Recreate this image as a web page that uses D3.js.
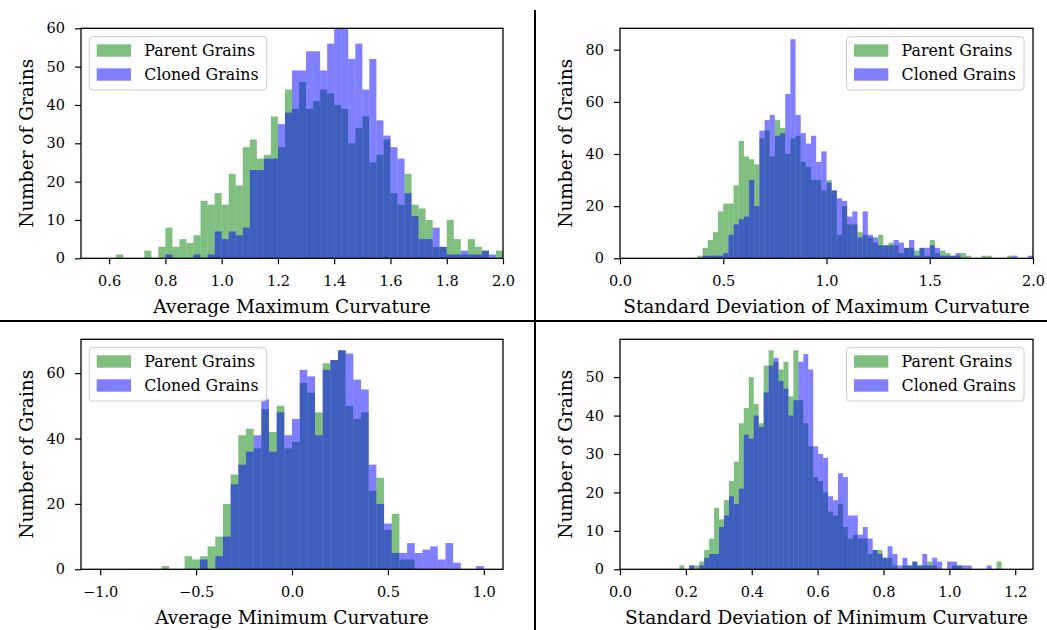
<!DOCTYPE html>
<html>
<head>
<meta charset="utf-8">
<script src="https://cdn.jsdelivr.net/npm/d3@7"></script>
<style>
  html, body { margin: 0; padding: 0; background: #fff; }
  svg { display: block; }
</style>
</head>
<body>
<div id="chart"></div>
<script>
// ---------------- DATA ----------------
const seriesNames = ["Parent Grains", "Cloned Grains"];

// Panel 1: Average Maximum Curvature (bins of 0.025 starting at 0.5)
const p1BinStart = 0.5, p1BinWidth = 0.025;
const p1Parent = [0,0,0,0,0,1,0,0,0,2, 0,3,8,3,5,4,6,15,14,17, 14,22,19,29,31,26,27,37,29,44,
                  39,46,39,41,44,43,40,39,30,34, 37,25,27,31,17,14,22,14,13,10, 3,3,10,5,1,5,3,2,0,2];
const p1Cloned = [0,0,0,0,0,0,0,0,0,0, 0,0,1,0,0,0,1,0,1,7, 5,7,6,8,23,23,26,26,35,38,
                  49,49,54,54,49,56,60,60,52,56, 44,52,36,32,29,26,17,11,5,5, 8,3,1,1,2,1,1,2,1,0];
const p1XTicks = [0.6,0.8,1.0,1.2,1.4,1.6,1.8,2.0];
const p1YTicks = [0,10,20,30,40,50,60];

// Panel 2: Standard Deviation of Maximum Curvature (bins of 0.025 starting at 0)
const p2BinStart = 0.0, p2BinWidth = 0.025;
const p2Parent = [0,0,0,0,0,0,0,0,0,0, 0,0,0,0,0,1,4,7,10,18, 21,21,28,45,39,38,36,46,49,39,
                  53,50,40,46,47,37,35,30,30,26, 30,26,9,20,13,13,10,9,8,6, 9,5,6,5,2,4,4,3,4,1,
                  7,2,3,2,1,1,2,1,0,0, 1,1,0,0,0,1,0,0,0,0];
const p2Cloned = [0,0,0,0,0,0,0,0,0,0, 0,0,0,0,0,0,1,1,1,1, 2,9,13,15,16,30,20,49,53,55,
                  47,48,63,84,55,48,44,47,37,41, 29,26,23,22,16,18,8,18,9,8, 5,5,5,7,6,4,7,1,4,4,
                  5,4,1,1,1,2,0,0,0,0, 0,0,0,0,0,0,1,0,0,1];
const p2XTicks = [0.0,0.5,1.0,1.5,2.0];
const p2YTicks = [0,20,40,60,80];

// Panel 3: Average Minimum Curvature (bins of 0.04 starting at -0.72)
const p3BinStart = -0.72, p3BinWidth = 0.04;
const p3Parent = [0,1,0,0,4,3,4,7,10,20, 29,41,43,37,49,42,50,37,39,57, 54,48,63,64,67,50,46,48,24,28,
                  12,17,3,3,0,0,0,0,0,0, 0,0,0];
const p3Cloned = [0,0,0,0,0,0,3,0,4,10, 26,32,36,41,52,36,48,41,46,61, 59,41,61,64,67,66,58,55,32,20,
                  14,5,5,8,5,6,7,3,8,2, 0,0,1];
const p3XTicks = [-1.0,-0.5,0.0,0.5,1.0];
const p3YTicks = [0,20,40,60];

// Panel 4: Standard Deviation of Minimum Curvature (bins of 0.01505 starting at 0.1803)
const p4BinStart = 0.1803, p4BinWidth = 0.01505;
const p4Parent = [1,0,1,1,2,5,8,16,13,18, 23,28,38,42,50,43,38,53,57,54, 52,54,45,57,44,38,32,24,23,20,
                  15,14,17,11,8,9,8,8,4,5, 5,3,3,1,0,1,1,2,1,1, 2,1,0,0,0,1,1,0,0,0, 0,0,0,0,2];
const p4Cloned = [0,0,1,0,1,3,4,4,11,14, 19,17,21,35,34,40,37,46,53,55, 49,47,40,44,54,56,52,32,30,29,
                  19,18,25,24,14,14,9,11,8,5, 4,3,6,4,1,3,1,2,1,4, 1,3,2,0,2,2,1,1,1,0, 0,0,1,0,0];
const p4XTicks = [0.0,0.2,0.4,0.6,0.8,1.0,1.2];
const p4YTicks = [0,10,20,30,40,50];

const yLabel = "Number of Grains";
const xLabels = ["Average Maximum Curvature", "Standard Deviation of Maximum Curvature",
                 "Average Minimum Curvature", "Standard Deviation of Minimum Curvature"];

// ---------------- LAYOUT ----------------
const W = 1047, H = 630;
const FONT = "'DejaVu Serif', 'Liberation Serif', serif";
const colors = ["green", "blue"];

const svg = d3.select("#chart").append("svg")
  .attr("width", W).attr("height", H).attr("viewBox", `0 0 ${W} ${H}`);

const panels = [
  { left: 81,  right: 503,  top: 28.3,  bottom: 258.3, xDomain: [0.5, 2.0], yDomain: [0, 60],
    start: p1BinStart, width: p1BinWidth, series: [p1Parent, p1Cloned], xTicks: p1XTicks, yTicks: p1YTicks,
    xFmt: d3.format(".1f"), xLabel: xLabels[0], legendSide: "left" },
  { left: 620, right: 1033, top: 28.3,  bottom: 258.3, xDomain: [0, 2.0], yDomain: [0, 88.2],
    start: p2BinStart, width: p2BinWidth, series: [p2Parent, p2Cloned], xTicks: p2XTicks, yTicks: p2YTicks,
    xFmt: d3.format(".1f"), xLabel: xLabels[1], legendSide: "right" },
  { left: 81,  right: 503,  top: 339.3, bottom: 569.3, xDomain: [-1.1, 1.1], yDomain: [0, 70.35],
    start: p3BinStart, width: p3BinWidth, series: [p3Parent, p3Cloned], xTicks: p3XTicks, yTicks: p3YTicks,
    xFmt: d3.format(".1f"), xLabel: xLabels[2], legendSide: "left" },
  { left: 620, right: 1033, top: 339.3, bottom: 569.3, xDomain: [0, 1.254], yDomain: [0, 59.85],
    start: p4BinStart, width: p4BinWidth, series: [p4Parent, p4Cloned], xTicks: p4XTicks, yTicks: p4YTicks,
    xFmt: d3.format(".1f"), xLabel: xLabels[3], legendSide: "right" }
];

panels.forEach((p, pi) => {
  const x = d3.scaleLinear().domain(p.xDomain).range([p.left, p.right]);
  const y = d3.scaleLinear().domain(p.yDomain).range([p.bottom, p.top]);
  const g = svg.append("g");

  const clipId = "clip" + pi;
  svg.append("clipPath").attr("id", clipId).append("rect")
    .attr("x", p.left).attr("y", p.top).attr("width", p.right - p.left).attr("height", p.bottom - p.top);

  const barsG = g.append("g").attr("clip-path", `url(#${clipId})`);
  p.series.forEach((vals, si) => {
    const bins = vals.map((c, i) => ({ x0: p.start + i * p.width, x1: p.start + (i + 1) * p.width, c }))
                     .filter(d => d.c > 0);
    barsG.append("g").selectAll("rect").data(bins).join("rect")
      .attr("x", d => x(d.x0))
      .attr("width", d => x(d.x1) - x(d.x0))
      .attr("y", d => y(d.c))
      .attr("height", d => y(0) - y(d.c))
      .attr("fill", colors[si])
      .attr("fill-opacity", 0.5);
  });

  // axes
  const xAxis = d3.axisBottom(x).tickValues(p.xTicks).tickFormat(p.xFmt).tickSize(6).tickPadding(11).tickSizeOuter(0);
  const yAxis = d3.axisLeft(y).tickValues(p.yTicks).tickFormat(d3.format("d")).tickSize(6).tickPadding(10).tickSizeOuter(0);
  const gx = g.append("g").attr("transform", `translate(0,${p.bottom})`).call(xAxis);
  const gy = g.append("g").attr("transform", `translate(${p.left},0)`).call(yAxis);
  [gx, gy].forEach(a => {
    a.select(".domain").remove();
    a.selectAll(".tick line").attr("stroke", "#000").attr("stroke-width", 1.2);
    a.selectAll(".tick text").attr("fill", "#000").style("font-family", FONT).style("font-size", "14.5px");
  });

  // spines
  g.append("rect").attr("x", p.left).attr("y", p.top)
    .attr("width", p.right - p.left).attr("height", p.bottom - p.top)
    .attr("fill", "none").attr("stroke", "#000").attr("stroke-width", 1.3);

  // axis labels
  g.append("text").attr("x", (p.left + p.right) / 2).attr("y", p.bottom + 55)
    .attr("text-anchor", "middle").style("font-family", FONT).style("font-size", "18.5px")
    .text(p.xLabel);
  g.append("text").attr("transform", `translate(${p.left - 47.7},${(p.top + p.bottom) / 2}) rotate(-90)`)
    .attr("text-anchor", "middle").style("font-family", FONT).style("font-size", "18.5px")
    .text(yLabel);

  // legend
  const lw = 177.4, lh = 53.3;
  const bx = p.legendSide === "left" ? p.left + 8.3 : p.right - 9 - lw;
  const by = p.top + 8.4;
  const lg = g.append("g");
  lg.append("rect").attr("x", bx).attr("y", by).attr("width", lw).attr("height", lh)
    .attr("rx", 3).attr("fill", "#fff").attr("fill-opacity", 0.8)
    .attr("stroke", "#cccccc").attr("stroke-width", 1);
  seriesNames.forEach((name, si) => {
    lg.append("rect").attr("x", bx + 7.4).attr("y", by + 7.6 + si * 24)
      .attr("width", 34.3).attr("height", 12.4)
      .attr("fill", colors[si]).attr("fill-opacity", 0.5);
    lg.append("text").attr("x", bx + 55).attr("y", by + 19 + si * 24.3)
      .style("font-family", FONT).style("font-size", "15.8px").text(name);
  });
});

// separator lines
svg.append("line").attr("x1", 535).attr("x2", 535).attr("y1", 10).attr("y2", H)
  .attr("stroke", "#000").attr("stroke-width", 2);
svg.append("line").attr("x1", 0).attr("x2", W).attr("y1", 321).attr("y2", 321)
  .attr("stroke", "#000").attr("stroke-width", 2);
</script>
</body>
</html>
